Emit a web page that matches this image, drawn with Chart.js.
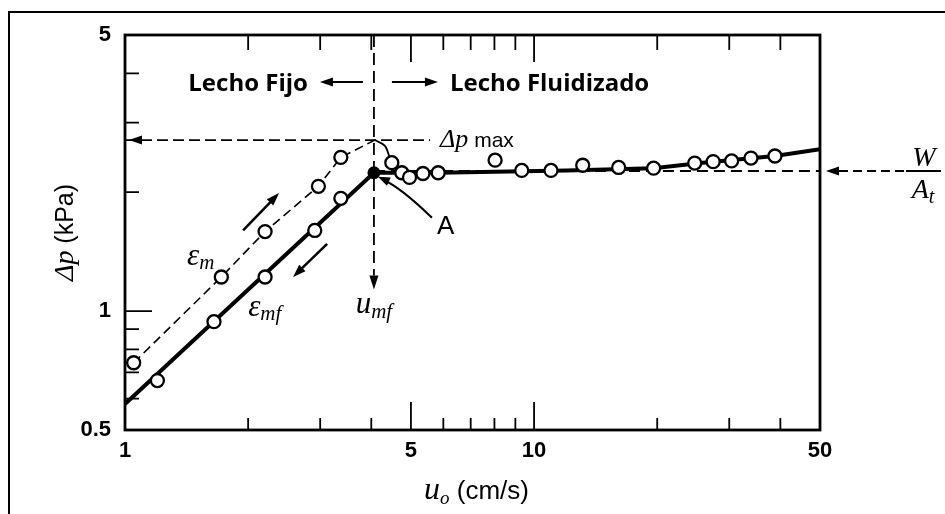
<!DOCTYPE html>
<html lang="es">
<head>
<meta charset="UTF-8">
<title>Caída de presión en lecho fijo y fluidizado</title>
<script src="https://cdn.jsdelivr.net/npm/chart.js@4.4.1/dist/chart.umd.min.js"></script>
<style>
  html, body { margin: 0; padding: 0; background: #fff; }
</style>
</head>
<body>
<canvas id="chart" width="945" height="514"></canvas>
<script>
// lecho fijo, velocidad creciente (eps_m)
var uUp = [1.05, 1.72, 2.20, 2.97, 3.37];
var dpUp = [0.74, 1.22, 1.59, 2.07, 2.45];
// lecho fijo, velocidad decreciente (eps_mf)
var uDown = [1.20, 1.65, 2.20, 2.91, 3.37];
var dpDown = [0.667, 0.94, 1.22, 1.60, 1.93];
// lecho fluidizado
var uFluid = [4.49, 4.75, 4.96, 5.35, 5.83, 8.03, 9.33, 11.0, 13.15, 16.1, 19.6, 24.7, 27.4, 30.4, 33.9, 38.8];
var dpFluid = [2.375, 2.24, 2.18, 2.23, 2.24, 2.41, 2.27, 2.27, 2.34, 2.31, 2.30, 2.37, 2.39, 2.40, 2.44, 2.47];
// curva gruesa (eps_mf + fluidizado)
var uLine = [1, 4.06, 5.83, 12, 19.6, 25.5, 38.8, 50];
var dpLine = [0.582, 2.24, 2.24, 2.27, 2.30, 2.37, 2.47, 2.57];
// caida desde el maximo
var uHump = [4.08, 4.32, 4.49, 4.75, 4.96, 5.35, 5.83];
var dpHump = [2.71, 2.62, 2.375, 2.24, 2.18, 2.23, 2.24];

var uMf = 4.06, dpA = 2.24;
var dpMax = 2.71, uPeak = 4.08, uMaxEnd = 5.57;
var wAt = 2.263;
var dpUmfEnd = 1.23;

var xTicks = [1, 5, 10, 50];
var yTicks = [0.5, 1, 5];
var xMinor = [2, 3, 4, 6, 7, 8, 9, 20, 30, 40];
var xMajor = [5, 10];
var yMinor = [0.6, 0.7, 0.8, 0.9, 2, 3, 4];
var yMajor = [1];

function pts(xs, ys) {
  return xs.map(function (x, i) { return { x: x, y: ys[i] }; });
}

var serif = '"Liberation Serif", serif';
var sans = '"Liberation Sans", Arial, sans-serif';

function rich(ctx, parts, x, y, align) {
  var w = 0;
  parts.forEach(function (p) { ctx.font = p[1]; w += ctx.measureText(p[0]).width; });
  var cx = align === 'center' ? x - w / 2 : (align === 'right' ? x - w : x);
  ctx.textAlign = 'left';
  ctx.textBaseline = 'alphabetic';
  parts.forEach(function (p) {
    ctx.font = p[1];
    ctx.fillText(p[0], cx, y + (p[2] || 0));
    cx += ctx.measureText(p[0]).width;
  });
}

function head(ctx, x, y, ang, L, W) {
  ctx.beginPath();
  ctx.moveTo(x, y);
  ctx.lineTo(x - L * Math.cos(ang) + W * Math.sin(ang), y - L * Math.sin(ang) - W * Math.cos(ang));
  ctx.lineTo(x - L * Math.cos(ang) - W * Math.sin(ang), y - L * Math.sin(ang) + W * Math.cos(ang));
  ctx.closePath();
  ctx.fill();
}

function arrow(ctx, x1, y1, x2, y2) {
  var ang = Math.atan2(y2 - y1, x2 - x1);
  ctx.beginPath();
  ctx.moveTo(x1, y1);
  ctx.lineTo(x2 - Math.cos(ang) * 9, y2 - Math.sin(ang) * 9);
  ctx.stroke();
  head(ctx, x2, y2, ang, 13, 4.5);
}

var deco = {
  id: 'deco',
  beforeDraw: function (c) {
    var ctx = c.ctx;
    ctx.save();
    ctx.fillStyle = '#fff';
    ctx.fillRect(0, 0, c.width, c.height);
    ctx.strokeStyle = '#000';
    ctx.lineWidth = 2;
    ctx.beginPath();
    ctx.moveTo(9, c.height + 2);
    ctx.lineTo(9, 12);
    ctx.lineTo(c.width + 2, 12);
    ctx.stroke();
    ctx.restore();
  },
  afterDatasetsDraw: function (c) {
    var ctx = c.ctx, a = c.chartArea, xs = c.scales.x, ys = c.scales.y;
    function X(u) { return xs.getPixelForValue(u); }
    function Y(v) { return ys.getPixelForValue(v); }
    ctx.save();
    ctx.strokeStyle = '#000';
    ctx.fillStyle = '#000';

    // marco
    ctx.lineWidth = 2.8;
    ctx.strokeRect(a.left, a.top, a.right - a.left, a.bottom - a.top);

    // marcas hacia dentro
    ctx.lineWidth = 1.8;
    ctx.beginPath();
    xMinor.forEach(function (v) {
      ctx.moveTo(X(v), a.bottom); ctx.lineTo(X(v), a.bottom - 12);
      ctx.moveTo(X(v), a.top); ctx.lineTo(X(v), a.top + 15);
    });
    xMajor.forEach(function (v) {
      ctx.moveTo(X(v), a.bottom); ctx.lineTo(X(v), a.bottom - 28);
      ctx.moveTo(X(v), a.top); ctx.lineTo(X(v), a.top + 27);
    });
    yMinor.forEach(function (v) {
      ctx.moveTo(a.left, Y(v)); ctx.lineTo(a.left + 14, Y(v));
    });
    yMajor.forEach(function (v) {
      ctx.moveTo(a.left, Y(v)); ctx.lineTo(a.left + 27, Y(v));
    });
    ctx.stroke();

    // titulos de ejes
    rich(ctx, [['u', 'italic 32px ' + serif], ['o', 'italic 19px ' + serif, 5], [' (cm/s)', '26px ' + sans]],
      (a.left + a.right) / 2 + 4, 499, 'center');
    ctx.save();
    ctx.translate(73, (a.top + a.bottom) / 2);
    ctx.rotate(-Math.PI / 2);
    rich(ctx, [['\u0394p', 'italic 28px ' + serif], [' (kPa)', '25px ' + sans]], 0, 0, 'center');
    ctx.restore();

    // encabezados
    var xm = X(uMf);
    ctx.font = 'bold 24px "Open Sans", sans-serif';
    ctx.textBaseline = 'alphabetic';
    ctx.textAlign = 'right';
    ctx.fillText('Lecho Fijo', xm - 66, a.top + 56);
    ctx.textAlign = 'left';
    ctx.fillText('Lecho Fluidizado', xm + 76, a.top + 56);
    ctx.lineWidth = 2.2;
    arrow(ctx, xm - 11, a.top + 47, xm - 54, a.top + 47);
    arrow(ctx, xm + 18, a.top + 47, xm + 64, a.top + 47);

    // flechas sobre las rectas
    ctx.lineWidth = 2.5;
    arrow(ctx, X(1.944), Y(1.60), X(2.38), Y(1.99));
    arrow(ctx, X(3.12), Y(1.48), X(2.575), Y(1.22));

    // flecha de dp max y de u_mf
    head(ctx, a.left + 4, Y(dpMax), Math.PI, 13, 4.5);
    head(ctx, xm, Y(dpUmfEnd) + 14, Math.PI / 2, 14, 4.5);

    // etiquetas
    rich(ctx, [['\u03b5', 'italic 31px ' + serif], ['m', 'italic 21px ' + serif, 4]], X(1.418), Y(1.309), 'left');
    rich(ctx, [['\u03b5', 'italic 31px ' + serif], ['mf', 'italic 21px ' + serif, 4]], X(2.0), Y(0.972), 'left');
    rich(ctx, [['\u0394p', 'italic 26px ' + serif], [' max', '21px ' + sans]], X(uMaxEnd) + 10, Y(dpMax) + 7, 'left');
    rich(ctx, [['u', 'italic 31px ' + serif], ['mf', 'italic 21px ' + serif, 5]], xm, Y(dpUmfEnd) + 37, 'center');

    // punto A
    var ax = X(uMf), ay = Y(dpA);
    ctx.font = '26px ' + sans;
    ctx.textAlign = 'left';
    ctx.fillText('A', ax + 63, ay + 61);
    ctx.lineWidth = 2;
    ctx.beginPath();
    ctx.moveTo(ax + 58, ay + 45);
    ctx.quadraticCurveTo(ax + 26, ay + 14, ax + 9, ay + 7);
    ctx.stroke();
    head(ctx, ax + 4, ay + 4, Math.atan2(-10, -22), 12, 4.5);

    // W / A_t fuera del grafico
    var wy = Y(wAt);
    ctx.lineWidth = 2.2;
    ctx.setLineDash([9, 5]);
    ctx.beginPath();
    ctx.moveTo(a.right + 84, wy);
    ctx.lineTo(a.right + 14, wy);
    ctx.stroke();
    ctx.setLineDash([]);
    head(ctx, a.right + 6, wy, Math.PI, 13, 4.5);
    ctx.beginPath();
    ctx.moveTo(a.right + 86, wy);
    ctx.lineTo(a.right + 121, wy);
    ctx.stroke();
    rich(ctx, [['W', 'italic 28px ' + serif]], a.right + 104, wy - 5, 'center');
    rich(ctx, [['A', 'italic 28px ' + serif], ['t', 'italic 20px ' + serif, 5]], a.right + 103, wy + 27, 'center');

    ctx.restore();
  }
};

var circle = {
  showLine: false,
  pointRadius: 6.5,
  pointBorderWidth: 2.3,
  pointBackgroundColor: '#fff',
  pointBorderColor: '#000'
};

new Chart(document.getElementById('chart'), {
  type: 'scatter',
  data: {
    datasets: [
      Object.assign({ label: 'fluidizado', data: pts(uFluid, dpFluid), order: 0 }, circle),
      Object.assign({ label: 'eps_mf', data: pts(uDown, dpDown), order: 0 }, circle),
      {
        label: 'eps_m',
        data: pts(uUp.concat([uPeak]), dpUp.concat([dpMax])),
        order: 1,
        showLine: true,
        borderColor: '#000',
        borderWidth: 1.6,
        borderDash: [9, 5],
        pointRadius: uUp.map(function () { return 6.5; }).concat([0]),
        pointBorderWidth: 2.3,
        pointBackgroundColor: '#fff',
        pointBorderColor: '#000'
      },
      {
        label: 'curva',
        data: pts(uLine, dpLine),
        order: 2,
        showLine: true,
        borderColor: '#000',
        borderWidth: 4,
        pointRadius: uLine.map(function (u) { return u === uMf ? 4.5 : 0; }),
        pointBackgroundColor: '#000',
        pointBorderColor: '#000'
      },
      {
        label: 'caida',
        data: pts(uHump, dpHump),
        order: 2,
        showLine: true,
        tension: 0.35,
        borderColor: '#000',
        borderWidth: 1.8,
        pointRadius: 0
      },
      {
        label: 'dp max',
        data: pts([1, uMaxEnd], [dpMax, dpMax]),
        order: 3,
        showLine: true,
        borderColor: '#000',
        borderWidth: 1.8,
        borderDash: [11, 5],
        pointRadius: 0
      },
      {
        label: 'u_mf',
        data: pts([uMf, uMf], [5, dpUmfEnd]),
        order: 3,
        showLine: true,
        borderColor: '#000',
        borderWidth: 1.8,
        borderDash: [12, 6],
        pointRadius: 0
      },
      {
        label: 'W/At',
        data: pts([uMf, 50], [wAt, wAt]),
        order: 3,
        showLine: true,
        borderColor: '#000',
        borderWidth: 2,
        borderDash: [11, 6],
        pointRadius: 0
      }
    ]
  },
  options: {
    responsive: false,
    animation: false,
    devicePixelRatio: 1,
    layout: { padding: { left: 65, right: 125, top: 35, bottom: 44 } },
    plugins: { legend: { display: false }, tooltip: { enabled: false } },
    scales: {
      x: {
        type: 'logarithmic',
        min: 1,
        max: 50,
        bounds: 'data',
        grid: { display: false, drawTicks: false },
        border: { display: false },
        ticks: {
          color: '#000',
          font: { family: sans, size: 22, weight: 'bold' },
          padding: 8,
          autoSkip: false,
          maxRotation: 0,
          callback: function (v) { return String(v); }
        },
        afterBuildTicks: function (s) { s.ticks = xTicks.map(function (v) { return { value: v }; }); },
        afterFit: function (s) { s.height = 40; }
      },
      y: {
        type: 'logarithmic',
        min: 0.5,
        max: 5,
        bounds: 'data',
        grid: { display: false, drawTicks: false },
        border: { display: false },
        ticks: {
          color: '#000',
          font: { family: sans, size: 22, weight: 'bold' },
          padding: 14,
          autoSkip: false,
          callback: function (v) { return String(v); }
        },
        afterBuildTicks: function (s) { s.ticks = yTicks.map(function (v) { return { value: v }; }); },
        afterFit: function (s) { s.width = 60; }
      }
    }
  },
  plugins: [deco]
});
</script>
</body>
</html>
